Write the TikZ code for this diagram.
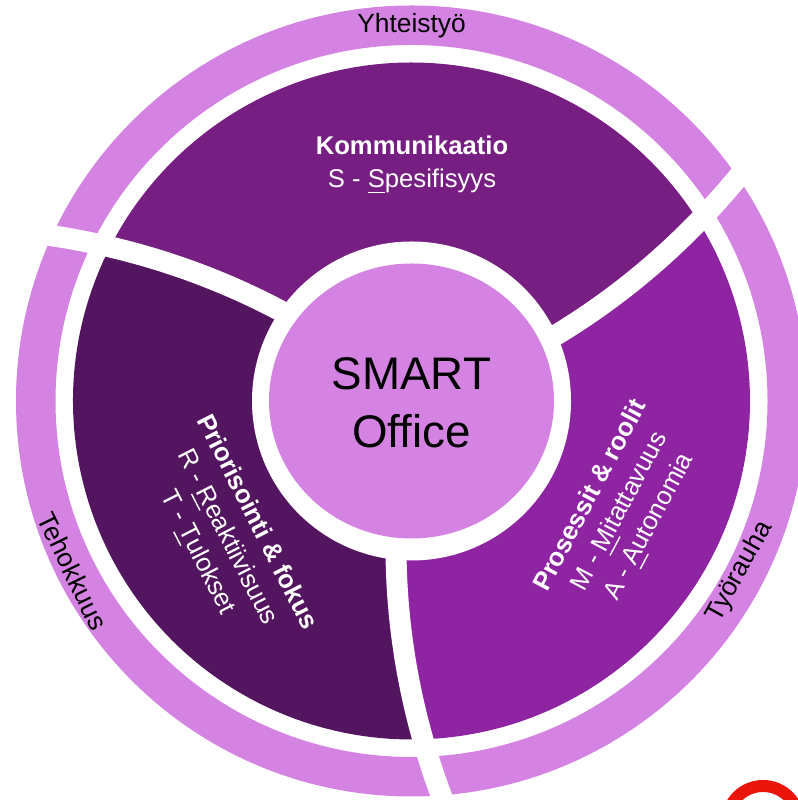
\documentclass[tikz,border=0pt]{standalone}
\usepackage{fontspec}
\setmainfont{Liberation Sans}
\definecolor{ringviolet}{RGB}{213,131,227}
\definecolor{kommviolet}{RGB}{118,30,130}
\definecolor{priorviolet}{RGB}{84,21,96}
\definecolor{prosviolet}{RGB}{143,36,163}
\definecolor{logored}{RGB}{235,20,10}

\begin{document}
\begin{tikzpicture}[
		gapline/.style={white, line width=0.21cm},
		segtext/.style={white, align=center, font=\fontsize{7.3}{9.4}\selectfont},
		ringtext/.style={black, font=\fontsize{7.5}{9}\selectfont},
	]
	\useasboundingbox (0,0) rectangle (7.98,8);
	\clip (0,0) rectangle (7.98,8);

	\begin{scope}[shift={(4.115,3.99)}]
		% draw the outer ring
		\fill[ringviolet, even odd rule] (0,0) circle [radius=3.955] (0,0) circle [radius=3.56];

		% draw the three segments of the middle ring
		\fill[kommviolet] (0,0) -- plot[domain=0.5:3.385, variable=\rr, samples=30] ({24.5+4.17*(\rr-1.58)}:{\rr})
			arc [start angle=32.03, end angle=152.93, radius=3.385]
			-- plot[domain=3.385:0.5, variable=\rr, samples=30] ({145.4+4.17*(\rr-1.58)}:{\rr}) -- cycle;
		\fill[priorviolet] (0,0) -- plot[domain=0.5:3.385, variable=\rr, samples=30] ({145.4+4.17*(\rr-1.58)}:{\rr})
			arc [start angle=152.93, end angle=271.93, radius=3.385]
			-- plot[domain=3.385:0.5, variable=\rr, samples=30] ({264.4+4.17*(\rr-1.58)}:{\rr}) -- cycle;
		\fill[prosviolet] (0,0) -- plot[domain=0.5:3.385, variable=\rr, samples=30] ({264.4+4.17*(\rr-1.58)}:{\rr})
			arc [start angle=271.93, end angle=392.03, radius=3.385]
			-- plot[domain=3.385:0.5, variable=\rr, samples=30] ({24.5+4.17*(\rr-1.58)}:{\rr}) -- cycle;

		% draw the inner circle
		\fill[white] (0,0) circle [radius=1.595];
		\fill[ringviolet] (0,0) ellipse [x radius=1.425, y radius=1.375];

		% draw the white gaps between the segments
		\draw[gapline] plot[domain=1.5:4.1, variable=\rr, samples=40] ({24.5+4.17*(\rr-1.58)}:{\rr});
		\draw[gapline] plot[domain=1.5:4.1, variable=\rr, samples=40] ({145.4+4.17*(\rr-1.58)}:{\rr});
		\draw[gapline] plot[domain=1.5:4.1, variable=\rr, samples=40] ({264.4+4.17*(\rr-1.58)}:{\rr});

		% the texts
		\node[align=center, font=\fontsize{13}{16.5}\selectfont] (smart) at (0,-0.015) {SMART\\Office};
		\node[segtext] (komm) at (0.005,2.36) {\textbf{Kommunikaatio}\\S - \underline{S}pesifisyys};
		\node[segtext, rotate=-63] (prior) at (-1.855,-1.37) {\textbf{Priorisointi \& fokus}\\R - \underline{R}eaktiivisuus\\T - \underline{T}ulokset};
		\node[segtext, rotate=62] (pros) at (2.095,-1.11) {\textbf{Prosessit \& roolit}\\M - \underline{M}itattavuus\\A - \underline{A}utonomia};

		\node[ringtext] (yht) at (90:3.755) {Yhteistyö};
		\node[ringtext, rotate=-64] (teho) at (206.7:3.79) {Tehokkuus};
		\node[ringtext, rotate=61] (tyo) at (-27.5:3.70) {Työrauha};
	\end{scope}

	% the red ring in the corner
	\draw[logored, line width=0.12cm] (7.63,-0.22) circle [radius=0.36];
\end{tikzpicture}
\end{document}
